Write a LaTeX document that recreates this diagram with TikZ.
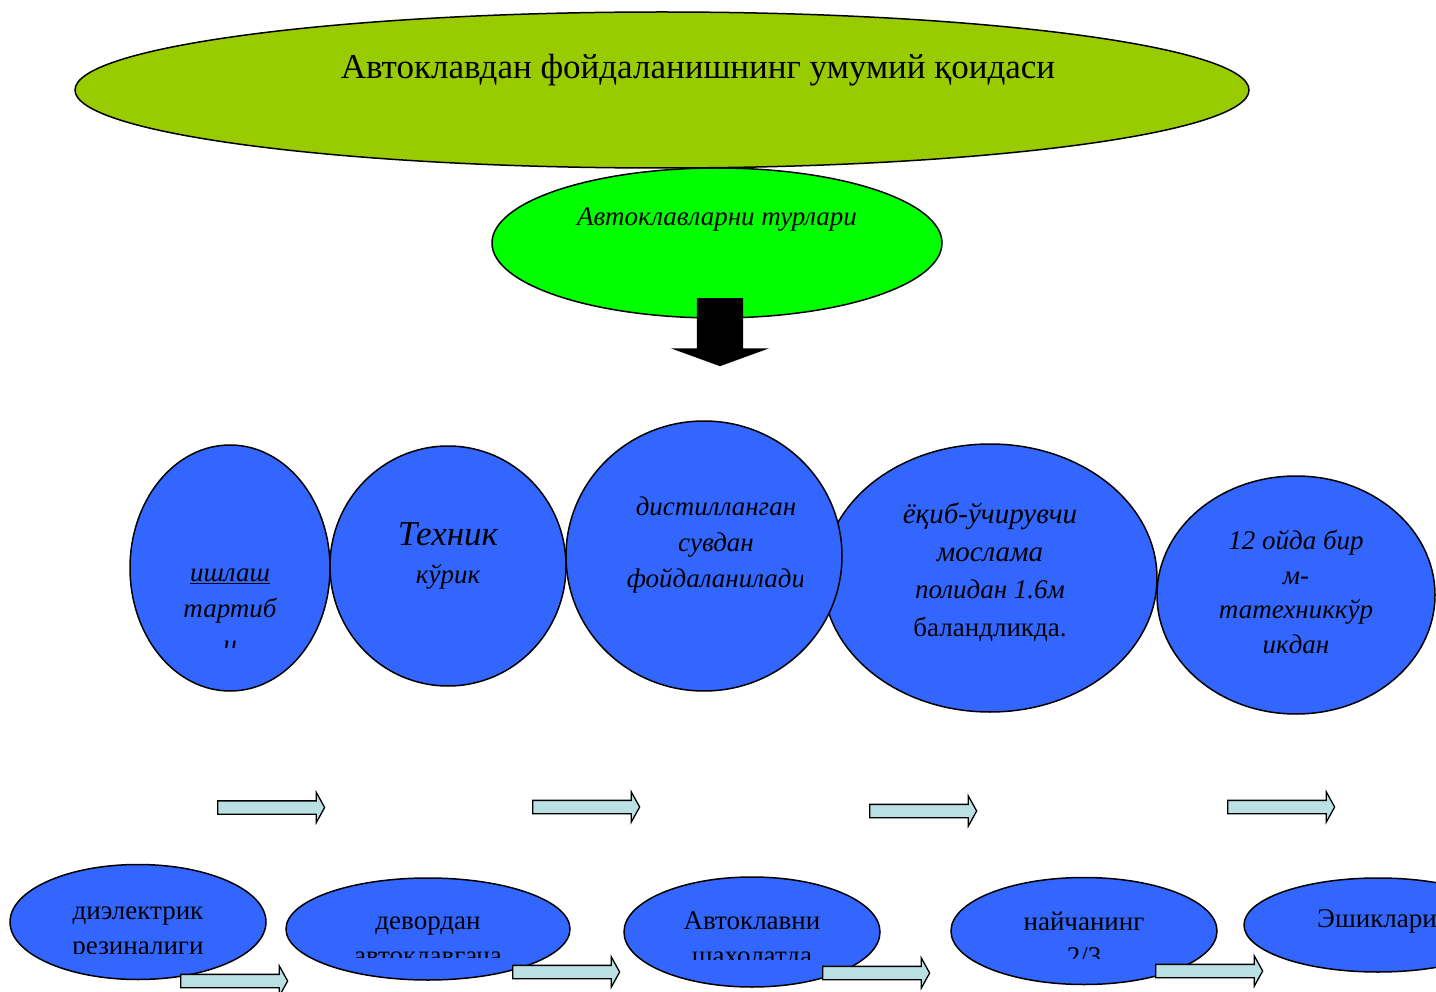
\documentclass[tikz,border=0pt]{standalone}
\usepackage{fontspec}
\setmainfont{Liberation Serif}
\usetikzlibrary{shapes.geometric,shapes.arrows}
\definecolor{olivegreen}{HTML}{99CC00}
\definecolor{brightgreen}{HTML}{00FF00}
\definecolor{bluefill}{HTML}{3366FF}
\definecolor{arrowfill}{RGB}{187,224,227}
\begin{document}
\begin{tikzpicture}[x=1pt,y=-1pt,
  oval/.style={ellipse, draw=black, line width=1.5pt, inner sep=0pt},
  blueoval/.style={oval, fill=bluefill},
  txt/.style={align=center, inner sep=0pt, text=black},
  flowarrow/.style={single arrow, draw=black, fill=arrowfill, line width=1.3pt,
    inner xsep=0pt, inner ysep=6pt, minimum height=107pt,
    single arrow head extend=8.5pt, single arrow tip angle=122, anchor=tail},
  mid/.style={font=\fontsize{27}{#1}\selectfont\itshape},
  low/.style={font=\fontsize{27}{35}\selectfont},
]
\clip (0,0) rectangle (1436,992);
\useasboundingbox (0,0) rectangle (1436,992);

% top
\node[oval, fill=brightgreen, minimum width=450pt, minimum height=150pt] (types) at (717,243) {};
\node[oval, fill=olivegreen, minimum width=1174pt, minimum height=156pt] (title) at (662,90) {};
\node[txt, font=\fontsize{35}{40}\selectfont] (titletext) at (698,70) {Автоклавдан фойдаланишнинг умумий қоидаси};
\node[txt, font=\fontsize{27}{32}\selectfont\itshape] (typestext) at (717,220) {Автоклавларни турлари};
\node[single arrow, fill=black, draw=none, inner xsep=0pt, inner ysep=23pt, minimum height=68pt,
  single arrow head extend=26pt, single arrow tip angle=140, rotate=-90, anchor=tail] (down) at (720,298) {};

% middle circles
\node[blueoval, minimum width=200pt, minimum height=246pt] (ca) at (230,568) {};
\node[blueoval, minimum width=236pt, minimum height=240pt] (cb) at (448,566) {};
\node[blueoval, minimum width=334pt, minimum height=268pt] (cd) at (990,578) {};
\node[blueoval, minimum width=278pt, minimum height=238pt] (ce) at (1296,595) {};
\node[blueoval, minimum width=276pt, minimum height=270pt] (cc) at (704,556) {};

\begin{scope}
\clip (130,440) rectangle (330,647);
\node[txt, mid=36] (ta) at (230,611) {\underline{ишлаш}\\тартиб\\и};
\end{scope}
\node[txt, font=\fontsize{35}{40}\selectfont\itshape] (tb1) at (448,534) {Техник};
\node[txt, font=\fontsize{27}{32}\selectfont\itshape] (tb2) at (448,577) {кўрик};
\begin{scope}
\clip (560,420) rectangle (802,700);
\node[txt, mid=36] (tc) at (716,545) {дистилланган\\сувдан\\фойдаланилади};
\end{scope}
\node[txt, mid=37.5] (td) at (990,572) {{\fontsize{29}{37.5}\selectfont ёқиб-ўчирувчи}\\{\fontsize{29}{37.5}\selectfont мослама}\\полидан 1.6м\\\upshape баландликда.};
\node[txt, mid=34.5] (te) at (1296,592) {12 ойда бир\\м-\\татехниккўр\\икдан};

% middle arrows
\node[flowarrow] (ma1) at (217,807.5) {};
\node[flowarrow] (ma2) at (532,807) {};
\node[flowarrow] (ma3) at (869,811) {};
\node[flowarrow] (ma4) at (1227,807) {};

% bottom ellipses
\node[blueoval, minimum width=256pt, minimum height=115pt] (ba) at (138,922) {};
\node[blueoval, minimum width=284pt, minimum height=102pt] (bb) at (428,929) {};
\node[blueoval, minimum width=256pt, minimum height=110pt] (bc) at (752,932) {};
\node[blueoval, minimum width=266pt, minimum height=107pt] (bd) at (1084,931) {};
\node[blueoval, minimum width=268pt, minimum height=94pt] (be) at (1378,925) {};

\begin{scope}
\clip (0,860) rectangle (300,953);
\node[txt, low] (tba) at (138,934) {диэлектрик\\резиналиги};
\end{scope}
\begin{scope}
\clip (280,860) rectangle (580,957);
\node[txt, low] (tbb) at (428,941) {девордан\\автоклавгача};
\end{scope}
\begin{scope}
\clip (620,860) rectangle (890,959);
\node[txt, low] (tbc) at (752,940.5) {Автоклавни\\шахолатда};
\end{scope}
\begin{scope}
\clip (940,860) rectangle (1225,958);
\node[txt, low] (tbd) at (1084,938.5) {найчанинг\\2/3};
\end{scope}
\node[txt, low] (tbe) at (1377,921) {Эшиклари};

% bottom arrows
\node[flowarrow] (ba1) at (180,981) {};
\node[flowarrow] (ba2) at (512,972) {};
\node[flowarrow] (ba3) at (822,973) {};
\node[flowarrow] (ba4) at (1155,971) {};
\end{tikzpicture}
\end{document}
